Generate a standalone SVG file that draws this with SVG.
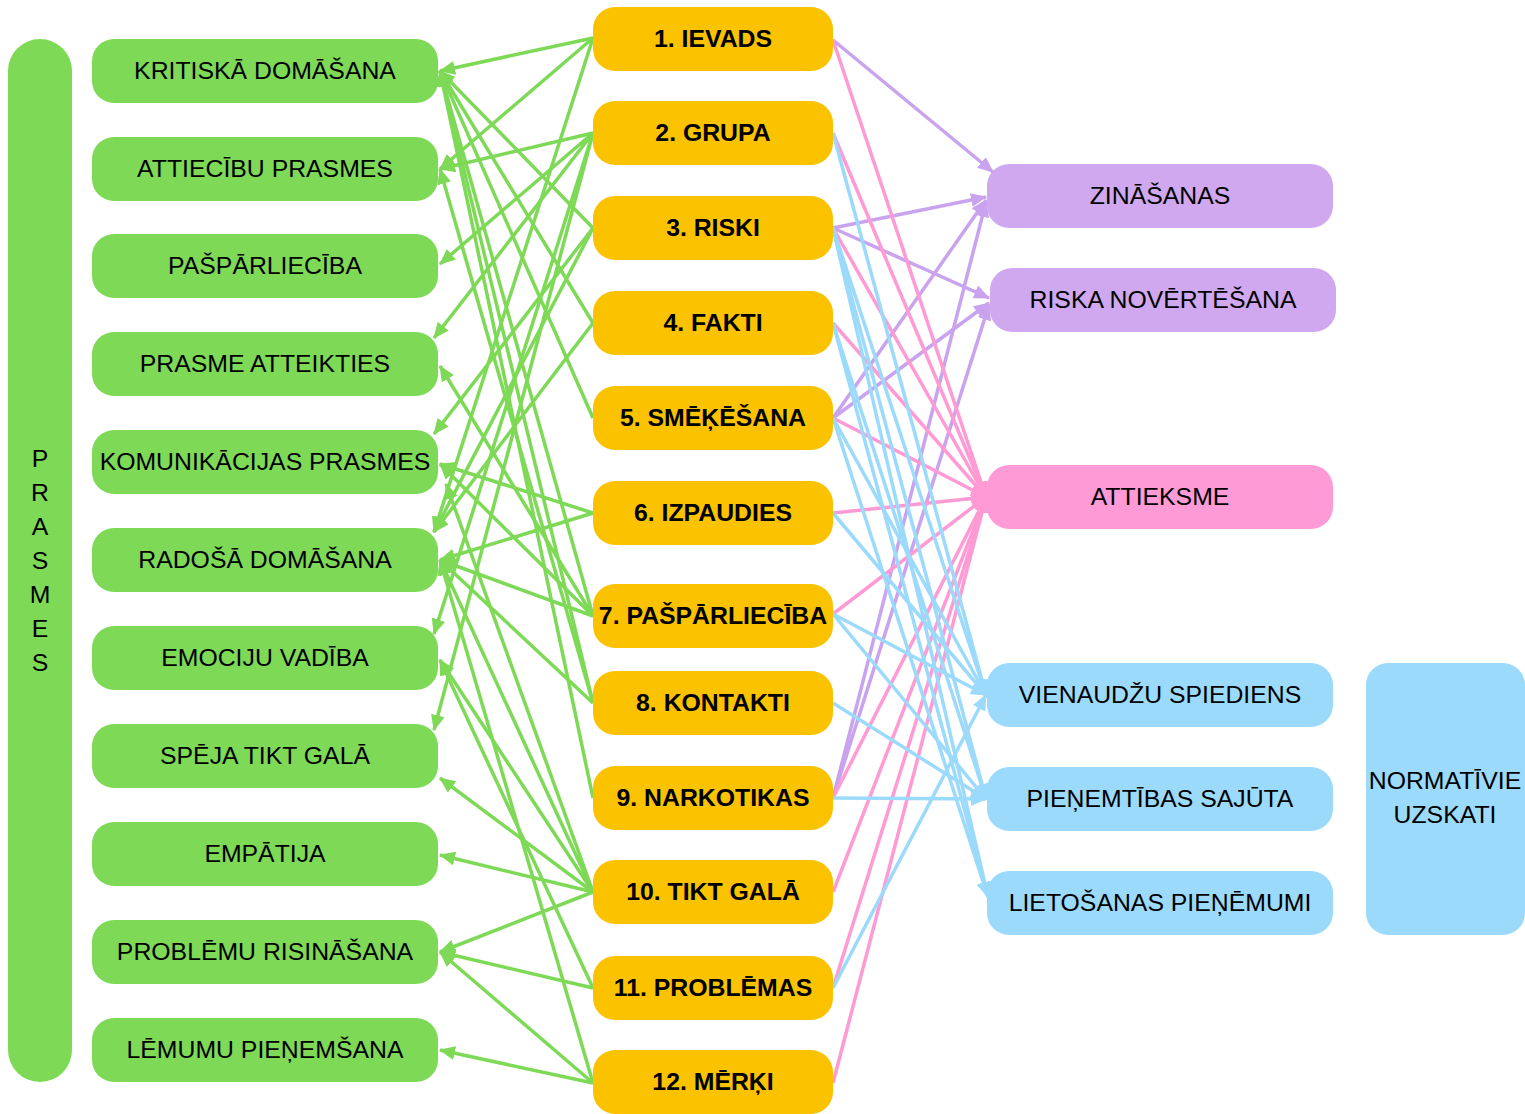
<svg xmlns="http://www.w3.org/2000/svg" width="1525" height="1114" viewBox="0 0 1525 1114">
<defs>
<style>
.t{font-family:"Liberation Sans",Arial,sans-serif;font-size:24.8px;fill:#000;text-anchor:middle}
.b{font-weight:bold}
.gn{fill:#7ed957}
.on{fill:#fbc200}
.pn{fill:#cfa8ef}
.kn{fill:#fe9bd6}
.bn{fill:#9cdafc}
.cg{stroke:#7ed957;stroke-width:3.5;fill:none;marker-end:url(#ag)}
.cp{stroke:#c9a3ee;stroke-width:3.5;fill:none;marker-end:url(#ap)}
.ck{stroke:#ff9ad5;stroke-width:3.5;fill:none;marker-end:url(#ak)}
.cb{stroke:#9cdafc;stroke-width:3.5;fill:none;marker-end:url(#ab)}
</style>
<marker id="ag" viewBox="0 0 16 14" refX="15" refY="7" markerWidth="16" markerHeight="14" markerUnits="userSpaceOnUse" orient="auto"><path d="M0,0 L16,7 L0,14 z" fill="#7ed957"/></marker>
<marker id="ap" viewBox="0 0 16 14" refX="15" refY="7" markerWidth="16" markerHeight="14" markerUnits="userSpaceOnUse" orient="auto"><path d="M0,0 L16,7 L0,14 z" fill="#c9a3ee"/></marker>
<marker id="ak" viewBox="0 0 16 14" refX="15" refY="7" markerWidth="16" markerHeight="14" markerUnits="userSpaceOnUse" orient="auto"><path d="M0,0 L16,7 L0,14 z" fill="#ff9ad5"/></marker>
<marker id="ab" viewBox="0 0 16 14" refX="15" refY="7" markerWidth="16" markerHeight="14" markerUnits="userSpaceOnUse" orient="auto"><path d="M0,0 L16,7 L0,14 z" fill="#9cdafc"/></marker>
</defs>
<rect width="1525" height="1114" fill="#fff"/>
<g id="connectors">
<line class="cg" x1="593" y1="38" x2="440" y2="71"/>
<line class="cg" x1="593" y1="38" x2="440" y2="169"/>
<line class="cg" x1="593" y1="38" x2="434" y2="532"/>
<line class="cg" x1="593" y1="133" x2="440" y2="169"/>
<line class="cg" x1="593" y1="133" x2="440" y2="264"/>
<line class="cg" x1="593" y1="133" x2="434" y2="338"/>
<line class="cg" x1="593" y1="133" x2="434" y2="634"/>
<line class="cg" x1="593" y1="133" x2="434" y2="730"/>
<line class="cg" x1="593" y1="228" x2="440" y2="71"/>
<line class="cg" x1="593" y1="228" x2="434" y2="434"/>
<line class="cg" x1="593" y1="228" x2="434" y2="532"/>
<line class="cg" x1="593" y1="323" x2="440" y2="71"/>
<line class="cg" x1="593" y1="323" x2="434" y2="532"/>
<line class="cg" x1="593" y1="418" x2="440" y2="71"/>
<line class="cg" x1="593" y1="513" x2="440" y2="464"/>
<line class="cg" x1="593" y1="513" x2="440" y2="560"/>
<line class="cg" x1="593" y1="616" x2="440" y2="71"/>
<line class="cg" x1="593" y1="616" x2="440" y2="366"/>
<line class="cg" x1="593" y1="616" x2="440" y2="464"/>
<line class="cg" x1="593" y1="616" x2="440" y2="560"/>
<line class="cg" x1="593" y1="703" x2="440" y2="71"/>
<line class="cg" x1="593" y1="703" x2="440" y2="169"/>
<line class="cg" x1="593" y1="703" x2="440" y2="560"/>
<line class="cg" x1="593" y1="798" x2="440" y2="71"/>
<line class="cg" x1="593" y1="892" x2="446" y2="484"/>
<line class="cg" x1="593" y1="892" x2="440" y2="560"/>
<line class="cg" x1="593" y1="892" x2="440" y2="660"/>
<line class="cg" x1="593" y1="892" x2="440" y2="778"/>
<line class="cg" x1="593" y1="892" x2="440" y2="855"/>
<line class="cg" x1="593" y1="892" x2="440" y2="952"/>
<line class="cg" x1="593" y1="988" x2="440" y2="660"/>
<line class="cg" x1="593" y1="988" x2="440" y2="952"/>
<line class="cg" x1="593" y1="1083" x2="440" y2="560"/>
<line class="cg" x1="593" y1="1083" x2="440" y2="952"/>
<line class="cg" x1="593" y1="1083" x2="440" y2="1050"/>
<line class="cp" x1="833" y1="40" x2="993" y2="172"/>
<line class="cp" x1="833" y1="228" x2="986" y2="197"/>
<line class="cp" x1="833" y1="228" x2="989" y2="298"/>
<line class="cp" x1="833" y1="418" x2="986" y2="200"/>
<line class="cp" x1="833" y1="418" x2="989" y2="303"/>
<line class="cp" x1="833" y1="798" x2="986" y2="202"/>
<line class="cp" x1="833" y1="798" x2="989" y2="305"/>
<line class="ck" x1="833" y1="40" x2="986" y2="497"/>
<line class="ck" x1="833" y1="133" x2="986" y2="497"/>
<line class="ck" x1="833" y1="228" x2="986" y2="497"/>
<line class="ck" x1="833" y1="323" x2="986" y2="497"/>
<line class="ck" x1="833" y1="418" x2="986" y2="497"/>
<line class="ck" x1="833" y1="513" x2="986" y2="497"/>
<line class="ck" x1="833" y1="614" x2="986" y2="497"/>
<line class="ck" x1="833" y1="798" x2="986" y2="497"/>
<line class="ck" x1="833" y1="892" x2="986" y2="497"/>
<line class="ck" x1="833" y1="988" x2="986" y2="497"/>
<line class="ck" x1="833" y1="1083" x2="986" y2="497"/>
<line class="cb" x1="833" y1="133" x2="986" y2="695"/>
<line class="cb" x1="833" y1="228" x2="986" y2="695"/>
<line class="cb" x1="833" y1="228" x2="986" y2="799"/>
<line class="cb" x1="833" y1="228" x2="988" y2="897"/>
<line class="cb" x1="833" y1="323" x2="986" y2="799"/>
<line class="cb" x1="833" y1="323" x2="988" y2="897"/>
<line class="cb" x1="833" y1="418" x2="986" y2="695"/>
<line class="cb" x1="833" y1="418" x2="988" y2="897"/>
<line class="cb" x1="833" y1="513" x2="986" y2="695"/>
<line class="cb" x1="833" y1="614" x2="986" y2="695"/>
<line class="cb" x1="833" y1="614" x2="986" y2="799"/>
<line class="cb" x1="833" y1="703" x2="986" y2="799"/>
<line class="cb" x1="833" y1="798" x2="986" y2="799"/>
<line class="cb" x1="833" y1="988" x2="986" y2="695"/>
</g>
<g id="prasmes"><rect class="gn" x="8" y="39" width="64" height="1043" rx="32"/>
<text class="t" x="40" y="467">P</text><text class="t" x="40" y="501">R</text><text class="t" x="40" y="535">A</text><text class="t" x="40" y="569">S</text><text class="t" x="40" y="603">M</text><text class="t" x="40" y="637">E</text><text class="t" x="40" y="671">S</text></g>
<g id="s1"><rect class="gn" x="92" y="39" width="346" height="64" rx="22"/><text class="t" x="265" y="79">KRITISKĀ DOMĀŠANA</text></g>
<g id="s2"><rect class="gn" x="92" y="137" width="346" height="64" rx="22"/><text class="t" x="265" y="177">ATTIECĪBU PRASMES</text></g>
<g id="s3"><rect class="gn" x="92" y="234" width="346" height="64" rx="22"/><text class="t" x="265" y="274">PAŠPĀRLIECĪBA</text></g>
<g id="s4"><rect class="gn" x="92" y="332" width="346" height="64" rx="22"/><text class="t" x="265" y="372">PRASME ATTEIKTIES</text></g>
<g id="s5"><rect class="gn" x="92" y="430" width="346" height="64" rx="22"/><text class="t" x="265" y="470">KOMUNIKĀCIJAS PRASMES</text></g>
<g id="s6"><rect class="gn" x="92" y="528" width="346" height="64" rx="22"/><text class="t" x="265" y="568">RADOŠĀ DOMĀŠANA</text></g>
<g id="s7"><rect class="gn" x="92" y="626" width="346" height="64" rx="22"/><text class="t" x="265" y="666">EMOCIJU VADĪBA</text></g>
<g id="s8"><rect class="gn" x="92" y="724" width="346" height="64" rx="22"/><text class="t" x="265" y="764">SPĒJA TIKT GALĀ</text></g>
<g id="s9"><rect class="gn" x="92" y="822" width="346" height="64" rx="22"/><text class="t" x="265" y="862">EMPĀTIJA</text></g>
<g id="s10"><rect class="gn" x="92" y="920" width="346" height="64" rx="22"/><text class="t" x="265" y="960">PROBLĒMU RISINĀŠANA</text></g>
<g id="s11"><rect class="gn" x="92" y="1018" width="346" height="64" rx="22"/><text class="t" x="265" y="1058">LĒMUMU PIEŅEMŠANA</text></g>
<g id="l1"><rect class="on" x="593" y="7" width="240" height="64" rx="22"/><text class="t b" x="713" y="47">1. IEVADS</text></g>
<g id="l2"><rect class="on" x="593" y="101" width="240" height="64" rx="22"/><text class="t b" x="713" y="141">2. GRUPA</text></g>
<g id="l3"><rect class="on" x="593" y="196" width="240" height="64" rx="22"/><text class="t b" x="713" y="236">3. RISKI</text></g>
<g id="l4"><rect class="on" x="593" y="291" width="240" height="64" rx="22"/><text class="t b" x="713" y="331">4. FAKTI</text></g>
<g id="l5"><rect class="on" x="593" y="386" width="240" height="64" rx="22"/><text class="t b" x="713" y="426">5. SMĒĶĒŠANA</text></g>
<g id="l6"><rect class="on" x="593" y="481" width="240" height="64" rx="22"/><text class="t b" x="713" y="521">6. IZPAUDIES</text></g>
<g id="l7"><rect class="on" x="593" y="584" width="240" height="64" rx="22"/><text class="t b" x="713" y="624">7. PAŠPĀRLIECĪBA</text></g>
<g id="l8"><rect class="on" x="593" y="671" width="240" height="64" rx="22"/><text class="t b" x="713" y="711">8. KONTAKTI</text></g>
<g id="l9"><rect class="on" x="593" y="766" width="240" height="64" rx="22"/><text class="t b" x="713" y="806">9. NARKOTIKAS</text></g>
<g id="l10"><rect class="on" x="593" y="860" width="240" height="64" rx="22"/><text class="t b" x="713" y="900">10. TIKT GALĀ</text></g>
<g id="l11"><rect class="on" x="593" y="956" width="240" height="64" rx="22"/><text class="t b" x="713" y="996">11. PROBLĒMAS</text></g>
<g id="l12"><rect class="on" x="593" y="1050" width="240" height="64" rx="22"/><text class="t b" x="713" y="1090">12. MĒRĶI</text></g>
<g id="r1"><rect class="pn" x="987" y="164" width="346" height="64" rx="22"/><text class="t" x="1160" y="204">ZINĀŠANAS</text></g>
<g id="r2"><rect class="pn" x="990" y="268" width="346" height="64" rx="22"/><text class="t" x="1163" y="308">RISKA NOVĒRTĒŠANA</text></g>
<g id="r3"><rect class="kn" x="987" y="465" width="346" height="64" rx="22"/><text class="t" x="1160" y="505">ATTIEKSME</text></g>
<g id="r4"><rect class="bn" x="987" y="663" width="346" height="64" rx="22"/><text class="t" x="1160" y="703">VIENAUDŽU SPIEDIENS</text></g>
<g id="r5"><rect class="bn" x="987" y="767" width="346" height="64" rx="22"/><text class="t" x="1160" y="807">PIEŅEMTĪBAS SAJŪTA</text></g>
<g id="r6"><rect class="bn" x="987" y="871" width="346" height="64" rx="22"/><text class="t" x="1160" y="911">LIETOŠANAS PIEŅĒMUMI</text></g>
<g id="norm"><rect class="bn" x="1366" y="663" width="159" height="272" rx="22"/><text class="t" x="1445" y="789">NORMATĪVIE</text><text class="t" x="1445" y="823">UZSKATI</text></g>
</svg>
